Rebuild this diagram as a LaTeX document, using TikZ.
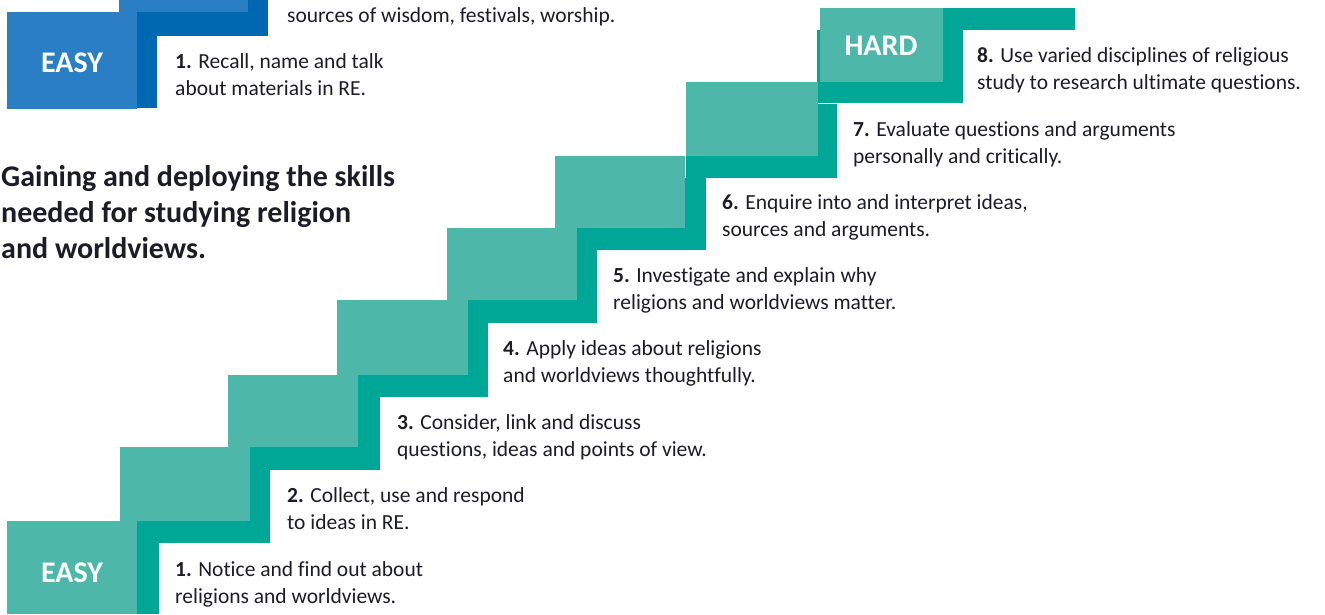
\documentclass[tikz,border=0pt]{standalone}
\usepackage{fontspec}
\setmainfont{Carlito}[Ligatures=NoCommon]
\definecolor{tealL}{HTML}{4DB8AA}
\definecolor{tealD}{HTML}{00A796}
\definecolor{blueL}{HTML}{2A7FC4}
\definecolor{blueD}{HTML}{0067B1}
\definecolor{ink}{HTML}{1C1C26}
\begin{document}
\begin{tikzpicture}[x=1pt,y=-1pt,
  tl/.style={fill=tealL,draw=none},
  td/.style={fill=tealD,draw=none},
  bl/.style={fill=blueL,draw=none},
  bd/.style={fill=blueD,draw=none},
  desc/.style={anchor=base west,inner sep=0pt,text=ink,font=\fontsize{21.5}{27}\selectfont},
  lvl/.style={anchor=base,inner sep=0pt,text=white,font=\fontsize{30}{36}\selectfont\bfseries},
  ttl/.style={anchor=base west,inner sep=0pt,text=ink,font=\fontsize{30}{36}\selectfont\bfseries}]
\useasboundingbox (0,0) rectangle (1325,614);
\fill[white] (0,0) rectangle (1325,614);
% ---- blue staircase (top left, cropped) ----
\path[bd] (119,0) rectangle (268,36);
\path[bd] (7,34) rectangle (157,108);
\path[bl] (119,0) rectangle (248,12);
\path[bl] (7,12) rectangle (137,109);
\node[lvl] (beasy) at (72,72) {EASY};
\node[desc] (b2) at (287,22) {sources of wisdom, festivals, worship.};
\node[desc] (b1) at (175,68) {\begin{tabular}[t]{@{}l@{}}\textbf{1.} Recall, name and talk\\about materials in RE.\end{tabular}};
% ---- title ----
\node[ttl] (title) at (1,186) {\begin{tabular}[t]{@{}l@{}}Gaining and deploying the skills\\needed for studying religion\\and worldviews.\end{tabular}};
% ---- teal staircase: dark shadows ----
\path[td] (7,543) rectangle (159,614);
\path[td] (120,469) rectangle (270,543);
\path[td] (228,397) rectangle (380,470);
\path[td] (337,322) rectangle (488,397);
\path[td] (447,250) rectangle (597,323);
\path[td] (555,178) rectangle (706,250);
\path[td] (686,104) rectangle (837,178);
\path[td] (817,30) rectangle (963,103);
\path[td] (943,8) rectangle (1075,30);
% ---- teal staircase: light steps ----
\path[tl] (7,521) rectangle (137,614);
\path[tl] (120,447) rectangle (250,521);
\path[tl] (228,375) rectangle (358,447);
\path[tl] (337,300) rectangle (468,375);
\path[tl] (447,228) rectangle (577,300);
\path[tl] (555,156) rectangle (685,228);
\path[tl] (686,82) rectangle (818,156);
\path[tl] (820,8) rectangle (943,82);
\node[lvl] (teasy) at (72,582) {EASY};
\node[lvl] (thard) at (881,55) {HARD};
% ---- step texts ----
\node[desc] (s1) at (175,576) {\begin{tabular}[t]{@{}l@{}}\textbf{1.} Notice and find out about\\religions and worldviews.\end{tabular}};
\node[desc] (s2) at (287,502) {\begin{tabular}[t]{@{}l@{}}\textbf{2.} Collect, use and respond\\to ideas in RE.\end{tabular}};
\node[desc] (s3) at (397,429) {\begin{tabular}[t]{@{}l@{}}\textbf{3.} Consider, link and discuss\\questions, ideas and points of view.\end{tabular}};
\node[desc] (s4) at (503,355) {\begin{tabular}[t]{@{}l@{}}\textbf{4.} Apply ideas about religions\\and worldviews thoughtfully.\end{tabular}};
\node[desc] (s5) at (613,282) {\begin{tabular}[t]{@{}l@{}}\textbf{5.} Investigate and explain why\\religions and worldviews matter.\end{tabular}};
\node[desc] (s6) at (722,209) {\begin{tabular}[t]{@{}l@{}}\textbf{6.} Enquire into and interpret ideas,\\sources and arguments.\end{tabular}};
\node[desc] (s7) at (853,136) {\begin{tabular}[t]{@{}l@{}}\textbf{7.} Evaluate questions and arguments\\personally and critically.\end{tabular}};
\node[desc] (s8) at (977,62) {\begin{tabular}[t]{@{}l@{}}\textbf{8.} Use varied disciplines of religious\\study to research ultimate questions.\end{tabular}};
\end{tikzpicture}
\end{document}
